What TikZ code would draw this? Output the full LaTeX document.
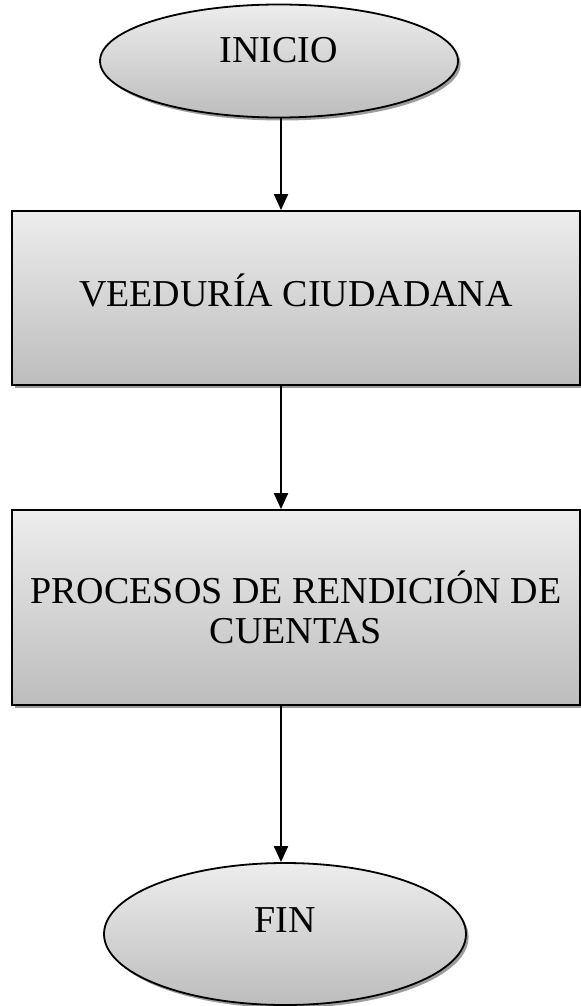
\documentclass[tikz,border=0pt]{standalone}
\usepackage{fontspec}
\setmainfont{Liberation Serif}
\usetikzlibrary{arrows.meta,shapes.geometric,shadows}

\begin{document}
\begin{tikzpicture}[x=0.5pt, y=-0.5pt,
	every node/.style={font=\fontsize{19pt}{20pt}\selectfont},
	shaded/.style={draw=black, line width=0.9pt, top color=gray!14, bottom color=gray!52,
		drop shadow={shadow xshift=1.3pt, shadow yshift=-1.5pt, fill=black!55, opacity=0.7}},
	terminal/.style={shaded, ellipse, inner sep=0pt},
	process/.style={shaded, rectangle, inner sep=0pt, align=center},
	flow/.style={line width=1pt, -{Triangle[length=8pt, width=7pt]}}]
			%%%%% START %%%%%
			\useasboundingbox (0,0) rectangle (581,1006);
			
			\node[terminal, minimum width=179pt, minimum height=56.5pt,
				label={[yshift=5.5pt]center:INICIO}] (inicio) at (279, 61) {};
			
			\node[process, minimum width=284pt, minimum height=87pt,
				label={[yshift=4pt]center:VEEDURÍA CIUDADANA}] (veeduria) at (296, 298) {};
			
			\node[process, minimum width=284pt, minimum height=97.5pt] (rendicion) at (296, 607.5)
				{PROCESOS DE RENDICIÓN DE\\CUENTAS};
			
			\node[terminal, minimum width=181pt, minimum height=71pt,
				label={[yshift=7pt]center:FIN}] (fin) at (285, 934) {};
			
			\draw[flow] (inicio.south -| 281,0) -- (veeduria.north -| 281,0);
			\draw[flow] (veeduria.south -| 281,0) -- (rendicion.north -| 281,0);
			\draw[flow] (rendicion.south -| 281,0) -- (fin.north -| 281,0);
			%%%%% END %%%%%
\end{tikzpicture}
\end{document}
